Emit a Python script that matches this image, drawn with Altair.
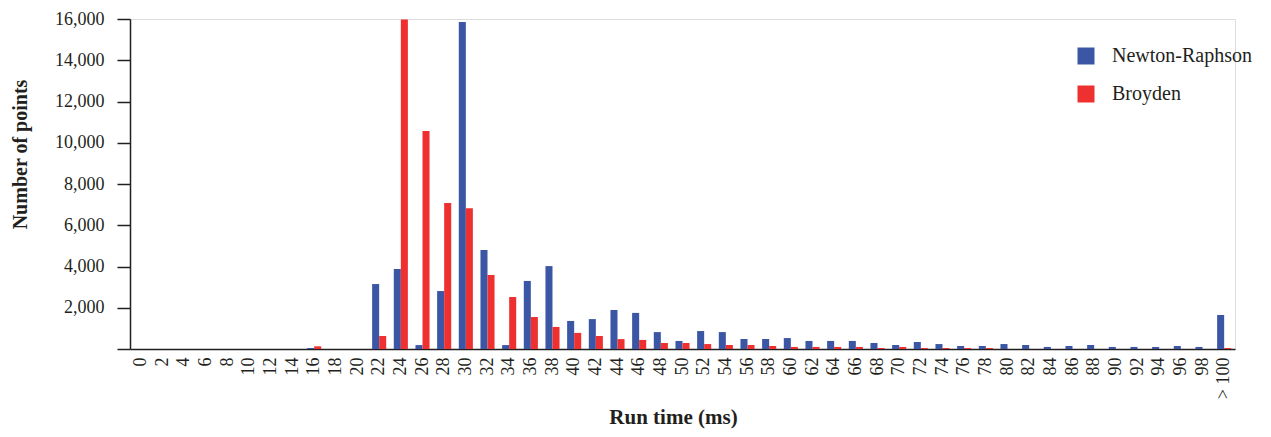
import altair as alt
import pandas as pd

categories = ["0", "2", "4", "6", "8", "10", "12", "14", "16", "18", "20",
              "22", "24", "26", "28", "30", "32", "34", "36", "38", "40",
              "42", "44", "46", "48", "50", "52", "54", "56", "58", "60",
              "62", "64", "66", "68", "70", "72", "74", "76", "78", "80",
              "82", "84", "86", "88", "90", "92", "94", "96", "98", "> 100"]

newton = [0, 0, 0, 0, 0, 0, 0, 0, 50, 0, 0,
          3150, 3880, 190, 2810, 15850, 4800, 190, 3300, 4020, 1360,
          1450, 1890, 1750, 820, 390, 870, 820, 485, 485, 530,
          390, 390, 390, 290, 195, 340, 240, 145, 145, 240,
          195, 100, 145, 195, 100, 100, 100, 145, 100, 1650]

broyden = [0, 0, 0, 0, 0, 0, 0, 0, 130, 0, 0,
           630, 15980, 10570, 7080, 6830, 3590, 2520, 1550, 1070, 780,
           630, 480, 440, 290, 290, 240, 195, 195, 145, 100,
           100, 100, 100, 50, 100, 50, 50, 50, 50, 0,
           0, 0, 0, 0, 0, 0, 0, 0, 0, 50]

series_names = ["Newton-Raphson", "Broyden"]
series_colors = ["#3b56a5", "#ee3030"]

rows = []
for c, v in zip(categories, newton):
    rows.append({"cat": c, "series": series_names[0], "value": v})
for c, v in zip(categories, broyden):
    rows.append({"cat": c, "series": series_names[1], "value": v})
df = pd.DataFrame(rows)

FONT = "Liberation Serif"
INK = "#231f20"

chart = alt.Chart(df).mark_bar().encode(
    x=alt.X("cat:N", sort=categories,
            scale=alt.Scale(paddingInner=0.35, paddingOuter=0.175),
            axis=alt.Axis(title="Run time (ms)", labelAngle=-90, ticks=False,
                          labelPadding=8, labelFontSize=18, labelFont=FONT,
                          labelColor=INK, domainColor=INK, domainWidth=1.5,
                          titleFont=FONT, titleFontSize=21, titleFontWeight="bold",
                          titleColor=INK, titleX=543, titleY=74,
                          titleBaseline="alphabetic", titleAlign="center")),
    xOffset=alt.XOffset("series:N", sort=series_names,
                        scale=alt.Scale(paddingInner=0, paddingOuter=0)),
    y=alt.Y("value:Q", scale=alt.Scale(domain=[0, 16000], nice=False),
            axis=alt.Axis(title="Number of points", values=list(range(0, 16001, 2000)),
                          labelExpr="datum.value == 0 ? '' : format(datum.value, ',')",
                          grid=False, tickSize=13, tickColor=INK, tickWidth=1.5,
                          labelPadding=13, labelFontSize=18, labelFont=FONT,
                          labelColor=INK, domainColor=INK, domainWidth=1.5,
                          titleFont=FONT, titleFontSize=20, titleFontWeight="bold",
                          titleColor=INK, titleX=-110, titleY=135,
                          titleBaseline="middle", titleAlign="center", titleAngle=-90)),
    color=alt.Color("series:N", sort=series_names,
                    scale=alt.Scale(domain=series_names, range=series_colors),
                    legend=alt.Legend(title=None, orient="none", legendX=946, legendY=27,
                                      symbolType="square", symbolSize=289,
                                      symbolStrokeWidth=0, labelFont=FONT,
                                      labelFontSize=20, labelColor=INK,
                                      labelOffset=16, rowPadding=18, padding=0)),
).properties(
    width=1105, height=330,
    autosize=alt.AutoSizeParams(type="none"),
    padding={"left": 122, "top": 11, "right": 28, "bottom": 80},
).configure_view(stroke=None).configure(background="white")

chart.save("out.html", embed_options={"renderer": "svg", "actions": False})
